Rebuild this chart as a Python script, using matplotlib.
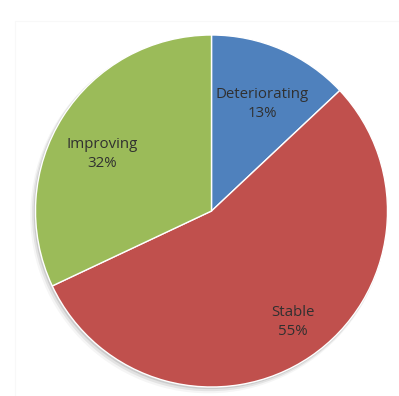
import matplotlib
matplotlib.use("Agg")
import matplotlib.pyplot as plt
from matplotlib.patches import Rectangle
import numpy as np

categories = ["Deteriorating", "Stable", "Improving"]
shares = [13, 55, 32]
colors = ["#4F81BD", "#C0504D", "#9BBB59"]
label_radius = [0.672, 0.782, 0.70]
label_turn = [-2.0, 2.0, 5.0]

W, H = 399, 396
fig = plt.figure(figsize=(W / 100, H / 100), dpi=100)
fig.patch.set_facecolor("white")

# faint chart-area frame
fig.patches.append(Rectangle((15 / W, -0.01), 1.1, (H - 21) / H + 0.01,
                             transform=fig.transFigure, fill=False,
                             edgecolor="#f8f8f8", linewidth=0.8))

cx, cy, r = 211.5, 211.0, 176.0
ax = fig.add_axes([(cx - r) / W, (H - cy - r) / H, 2 * r / W, 2 * r / H])
ax.set_xlim(-1, 1)
ax.set_ylim(-1, 1)
ax.set_aspect("equal")
ax.axis("off")

# soft shadow under the pie
for k, a in enumerate([0.10, 0.07, 0.04]):
    ax.pie(shares, startangle=90, counterclock=False,
           colors=["#000000"] * 3, radius=1.0 + 0.004 * (k + 1),
           center=(-0.006 * (k + 1), -0.008 * (k + 1)),
           wedgeprops=dict(alpha=a, linewidth=0), frame=False)

wedges, _ = ax.pie(shares, startangle=90, counterclock=False, colors=colors,
                   radius=1.0,
                   wedgeprops=dict(edgecolor="white", linewidth=1.0))
ax.set_xlim(-1, 1)
ax.set_ylim(-1, 1)

for w, name, val, d, t in zip(wedges, categories, shares, label_radius, label_turn):
    ang = np.deg2rad((w.theta1 + w.theta2) / 2 + t)
    ax.text(d * np.cos(ang), d * np.sin(ang), f"{name}\n{val}%",
            ha="center", va="center", fontsize=10.8, color="#303030",
            family="Open Sans", linespacing=1.35)

fig.savefig("out.png", dpi=100)
